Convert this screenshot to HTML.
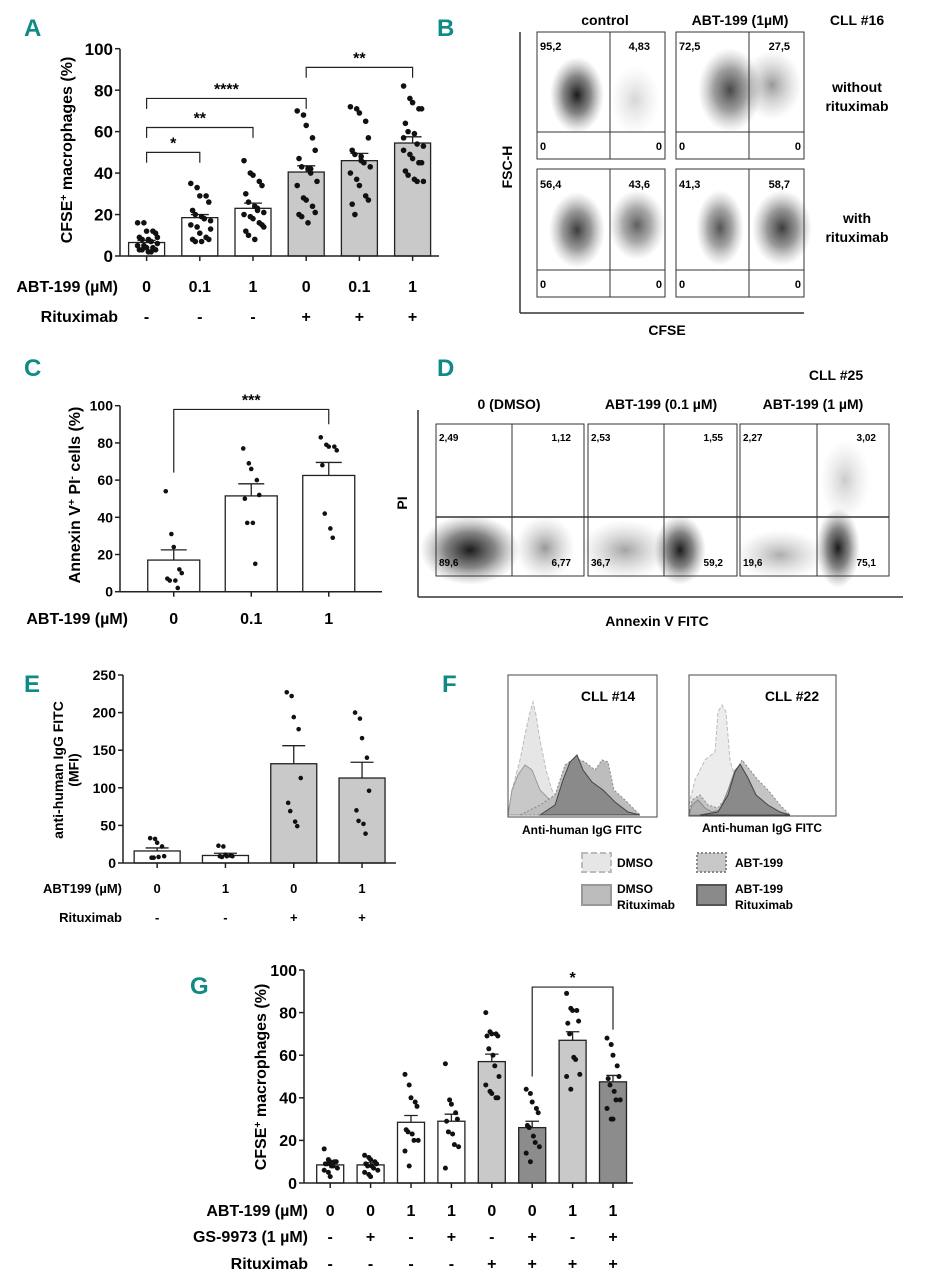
<!DOCTYPE html>
<html><head><meta charset="utf-8">
<style>
body{margin:0;background:#fff;}
svg{display:block;font-family:"Liberation Sans",sans-serif;}
.b{font-weight:bold;}
.let{font-family:"Liberation Sans",sans-serif;font-weight:bold;fill:#0f8a85;font-size:24px;}
</style></head>
<body>
<svg id="fig" width="925" height="1280" viewBox="0 0 925 1280" xmlns="http://www.w3.org/2000/svg">
<defs>
<radialGradient id="blob" cx="50%" cy="50%" r="50%">
<stop offset="0" stop-color="#000" stop-opacity="0.9"/>
<stop offset="0.5" stop-color="#222" stop-opacity="0.55"/>
<stop offset="1" stop-color="#666" stop-opacity="0"/>
</radialGradient>
<radialGradient id="blobL" cx="50%" cy="50%" r="50%">
<stop offset="0" stop-color="#333" stop-opacity="0.5"/>
<stop offset="1" stop-color="#888" stop-opacity="0"/>
</radialGradient>
</defs>
<g id="letters">
<text class="let" x="24" y="36">A</text>
<text class="let" x="437" y="36">B</text>
<text class="let" x="24" y="376">C</text>
<text class="let" x="437" y="376">D</text>
<text class="let" x="24" y="692">E</text>
<text class="let" x="442" y="692">F</text>
<text class="let" x="190" y="994">G</text>
</g>
<g id="gA"></g>
<g id="gC"></g>
<g id="gE"></g>
<g id="gG"></g>

<!-- Panel B -->
<g id="panelB">
<line x1="520" y1="32" x2="520" y2="313" stroke="#333" stroke-width="1.5"/>
<line x1="520" y1="313" x2="804" y2="313" stroke="#333" stroke-width="1.5"/>
<text class="b" x="605" y="25" font-size="14" text-anchor="middle">control</text>
<text class="b" x="740" y="25" font-size="14" text-anchor="middle">ABT-199 (1µM)</text>
<text class="b" x="857" y="25" font-size="14" text-anchor="middle">CLL #16</text>
<text class="b" x="857" y="92" font-size="14" text-anchor="middle">without</text>
<text class="b" x="857" y="111" font-size="14" text-anchor="middle">rituximab</text>
<text class="b" x="857" y="223" font-size="14" text-anchor="middle">with</text>
<text class="b" x="857" y="242" font-size="14" text-anchor="middle">rituximab</text>
<text class="b" x="512" y="167" font-size="14" text-anchor="middle" transform="rotate(-90 512 167)">FSC-H</text>
<text class="b" x="667" y="335" font-size="14" text-anchor="middle">CFSE</text>
<!-- plots -->
<ellipse cx="577" cy="95" rx="27" ry="38" fill="url(#blob)"/>
<ellipse cx="635" cy="100" rx="25" ry="35" fill="url(#blobL)" opacity="0.4"/>
<ellipse cx="730" cy="90" rx="32" ry="42" fill="url(#blob)" opacity="0.8"/>
<ellipse cx="772" cy="85" rx="30" ry="35" fill="url(#blobL)"/>
<ellipse cx="577" cy="230" rx="28" ry="38" fill="url(#blob)" opacity="0.85"/>
<ellipse cx="637" cy="225" rx="28" ry="35" fill="url(#blob)" opacity="0.7"/>
<ellipse cx="720" cy="228" rx="24" ry="38" fill="url(#blob)" opacity="0.75"/>
<ellipse cx="782" cy="228" rx="30" ry="38" fill="url(#blob)" opacity="0.85"/>
<g fill="none" stroke="#333" stroke-width="1">
<rect x="537" y="32" width="128" height="127"/><line x1="537" y1="132" x2="665" y2="132"/><line x1="610" y1="32" x2="610" y2="159"/>
<rect x="676" y="32" width="128" height="127"/><line x1="676" y1="132" x2="804" y2="132"/><line x1="749" y1="32" x2="749" y2="159"/>
<rect x="537" y="169" width="128" height="128"/><line x1="537" y1="270" x2="665" y2="270"/><line x1="610" y1="169" x2="610" y2="297"/>
<rect x="676" y="169" width="128" height="128"/><line x1="676" y1="270" x2="804" y2="270"/><line x1="749" y1="169" x2="749" y2="297"/>
</g>
<g font-size="11" class="b">
<text x="540" y="50">95,2</text><text x="650" y="50" text-anchor="end">4,83</text><text x="540" y="150">0</text><text x="662" y="150" text-anchor="end">0</text>
<text x="679" y="50">72,5</text><text x="790" y="50" text-anchor="end">27,5</text><text x="679" y="150">0</text><text x="801" y="150" text-anchor="end">0</text>
<text x="540" y="188">56,4</text><text x="650" y="188" text-anchor="end">43,6</text><text x="540" y="288">0</text><text x="662" y="288" text-anchor="end">0</text>
<text x="679" y="188">41,3</text><text x="790" y="188" text-anchor="end">58,7</text><text x="679" y="288">0</text><text x="801" y="288" text-anchor="end">0</text>
</g>
</g>

<!-- Panel D -->
<g id="panelD">
<line x1="418" y1="410" x2="418" y2="597" stroke="#333" stroke-width="1.5"/>
<line x1="418" y1="597" x2="903" y2="597" stroke="#333" stroke-width="1.5"/>
<text class="b" x="836" y="380" font-size="14" text-anchor="middle">CLL #25</text>
<text class="b" x="509" y="409" font-size="14" text-anchor="middle">0 (DMSO)</text>
<text class="b" x="661" y="409" font-size="14" text-anchor="middle">ABT-199 (0.1 µM)</text>
<text class="b" x="813" y="409" font-size="14" text-anchor="middle">ABT-199 (1 µM)</text>
<text class="b" x="407" y="503" font-size="14" text-anchor="middle" transform="rotate(-90 407 503)">PI</text>
<text class="b" x="657" y="626" font-size="14" text-anchor="middle">Annexin V FITC</text>
<ellipse cx="470" cy="550" rx="50" ry="35" fill="url(#blob)"/>
<ellipse cx="545" cy="548" rx="30" ry="32" fill="url(#blobL)"/>
<ellipse cx="625" cy="550" rx="45" ry="30" fill="url(#blobL)" opacity="0.9"/>
<ellipse cx="680" cy="550" rx="26" ry="35" fill="url(#blob)"/>
<ellipse cx="780" cy="555" rx="45" ry="25" fill="url(#blobL)" opacity="0.8"/>
<ellipse cx="838" cy="548" rx="22" ry="40" fill="url(#blob)"/>
<ellipse cx="845" cy="480" rx="25" ry="40" fill="url(#blobL)" opacity="0.5"/>
<g fill="none" stroke="#333" stroke-width="1">
<rect x="436" y="424" width="148" height="152"/><line x1="512" y1="424" x2="512" y2="576"/>
<rect x="588" y="424" width="149" height="152"/><line x1="664" y1="424" x2="664" y2="576"/>
<rect x="740" y="424" width="149" height="152"/><line x1="817" y1="424" x2="817" y2="576"/>
<line x1="436" y1="517" x2="889" y2="517" stroke-width="1.5"/>
</g>
<g font-size="10" class="b">
<text x="439" y="441">2,49</text><text x="571" y="441" text-anchor="end">1,12</text><text x="439" y="566">89,6</text><text x="571" y="566" text-anchor="end">6,77</text>
<text x="591" y="441">2,53</text><text x="723" y="441" text-anchor="end">1,55</text><text x="591" y="566">36,7</text><text x="723" y="566" text-anchor="end">59,2</text>
<text x="743" y="441">2,27</text><text x="876" y="441" text-anchor="end">3,02</text><text x="743" y="566">19,6</text><text x="876" y="566" text-anchor="end">75,1</text>
</g>
</g>

<!-- Panel F -->
<g id="panelF">
<g>
<path d="M508,815 L512,790 L520,760 L526,730 L530,712 L533,702 L536,715 L540,740 L546,770 L552,790 L560,805 L570,812 L580,815 Z" fill="#e6e6e6" stroke="#bbb" stroke-dasharray="4 2"/>
<path d="M508,815 L512,790 L518,775 L525,765 L532,770 L540,790 L550,800 L560,795 L570,790 L580,795 L600,812 L610,815 Z" fill="#c8c8c8" stroke="#999"/>
<path d="M520,815 L540,805 L555,795 L565,765 L575,758 L585,762 L595,770 L602,760 L608,762 L614,790 L625,800 L640,815 Z" fill="#bdbdbd" stroke="#888" stroke-dasharray="2 2"/>
<path d="M540,815 L555,805 L563,780 L570,762 L577,755 L583,770 L592,782 L603,790 L615,802 L628,812 L640,815 Z" fill="#8a8a8a" stroke="#444"/>
<rect x="508" y="675" width="149" height="142" fill="none" stroke="#444"/>
</g>
<g>
<path d="M689,805 L695,780 L705,760 L715,752 L718,712 L722,705 L726,712 L730,760 L740,795 L755,812 L760,815 L689,815 Z" fill="#ececec" stroke="#bbb" stroke-dasharray="4 2"/>
<path d="M689,815 L692,800 L700,795 L708,805 L718,808 L728,795 L735,775 L742,760 L750,770 L758,780 L768,790 L780,805 L790,815 Z" fill="#c4c4c4" stroke="#888" stroke-dasharray="2 2"/>
<path d="M689,815 L692,805 L698,800 L705,808 L712,812 L720,810 L728,790 L735,770 L740,765 L746,780 L756,800 L770,812 L780,815 Z" fill="#b0b0b0" stroke="#888"/>
<path d="M700,815 L718,812 L728,795 L735,772 L740,764 L748,778 L756,795 L768,805 L780,812 L790,815 Z" fill="#8a8a8a" stroke="#444"/>
<rect x="689" y="675" width="147" height="141" fill="#fff" fill-opacity="0" stroke="#444"/>
</g>
<text class="b" x="608" y="701" font-size="14" text-anchor="middle" font-family="Liberation Sans">CLL #14</text>
<text class="b" x="792" y="701" font-size="14" text-anchor="middle">CLL #22</text>
<text class="b" x="582" y="834" font-size="12" text-anchor="middle">Anti-human IgG FITC</text>
<text class="b" x="762" y="832" font-size="12" text-anchor="middle">Anti-human IgG FITC</text>
<g class="b" font-size="12">
<rect x="582" y="853" width="29" height="19" fill="#e6e6e6" stroke="#bbb" stroke-width="2" stroke-dasharray="6 3"/>
<text x="617" y="867">DMSO</text>
<rect x="697" y="853" width="29" height="19" fill="#c8c8c8" stroke="#888" stroke-width="2" stroke-dasharray="2 2"/>
<text x="735" y="867">ABT-199</text>
<rect x="582" y="885" width="29" height="20" fill="#bcbcbc" stroke="#999" stroke-width="2"/>
<text x="617" y="893"><tspan x="617">DMSO</tspan><tspan x="617" dy="16">Rituximab</tspan></text>
<rect x="697" y="885" width="29" height="20" fill="#8a8a8a" stroke="#555" stroke-width="2"/>
<text x="735" y="893"><tspan x="735">ABT-199</tspan><tspan x="735" dy="16">Rituximab</tspan></text>
</g>
</g>
</svg>
<script>
// Panel A data
const aCategories = ["0","0.1","1","0","0.1","1"];
const aRituximab = ["-","-","-","+","+","+"];
const aMeans = [6.5,18.5,23,40.5,46,54.5];
const aSem = [1,1.5,2.5,3,3.5,3];
const aTicks = [0,20,40,60,80,100];
const aPoints = [
 [16,16,12,12,11,9,8,8,7,6,5,5,4,4,3,3,3,2,2,9],
 [35,33,29,29,26,22,20,19,18,17,15,14,11,9,8,8,7,7,18,13],
 [46,40,39,36,34,30,26,24,23,21,20,19,18,16,15,12,10,8,22,14],
 [70,68,63,57,51,47,43,42,40,36,34,28,27,24,21,20,19,16,42],
 [72,71,69,65,57,51,49,48,45,43,40,37,34,29,27,25,20,46],
 [82,76,74,71,71,64,60,59,54,53,51,49,47,45,45,41,39,37,36,36,57]];
const aBrackets = [[0,1,50,"*"],[0,2,62,"**"],[0,3,76,"****"],[3,5,91,"**"]];

// Panel C data
const cCategories = ["0","0.1","1"];
const cMeans = [17,51.5,62.5];
const cSem = [5.5,6.5,7];
const cTicks = [0,20,40,60,80,100];
const cPoints = [[54,31,24,12,10,7,6,6,2],[77,69,66,60,52,50,37,37,15],[83,79,78,78,76,68,42,34,29]];
const cBrackets = [[0,2,98,"***"]];

// Panel E data
const eCategories = ["0","1","0","1"];
const eRituximab = ["-","-","+","+"];
const eMeans = [16,10,132,113];
const eSem = [4,3,24,21];
const eTicks = [0,50,100,150,200,250];
const ePoints = [[33,32,27,22,9,7,7,8],[23,22,11,10,9,9,8,9],[227,222,194,178,113,80,69,55,49],[200,192,166,140,96,70,56,52,39]];

// Panel G data
const gCategories = ["0","0","1","1","0","0","1","1"];
const gGS = ["-","+","-","+","-","+","-","+"];
const gRituximab = ["-","-","-","-","+","+","+","+"];
const gMeans = [8.5,8.5,28.5,29,57,26,67,47.5];
const gSem = [1,1,3.2,3.3,3.5,3,4,3];
const gTicks = [0,20,40,60,80,100];
const gPoints = [
 [16,11,10,10,10,9,9,8,8,7,6,5,3],
 [13,12,11,10,9,9,8,8,7,6,5,4,3],
 [51,46,40,38,36,25,24,23,20,20,15,8],
 [56,39,37,33,30,29,24,23,18,17,7],
 [80,71,70,70,69,69,63,60,55,50,46,43,42,40,40],
 [44,42,38,35,33,27,26,22,19,17,14,10],
 [89,82,81,81,76,75,70,59,58,51,50,44],
 [68,65,60,55,50,49,46,43,39,39,35,30,30]];
const gBrackets = [[5,7,92,"*",50,72]];

const NS = "http://www.w3.org/2000/svg";
function mk(parent, tag, attrs, text){
  const e = document.createElementNS(NS, tag);
  for (const k in attrs) e.setAttribute(k, attrs[k]);
  if (text !== undefined) e.textContent = text;
  parent.appendChild(e);
  return e;
}

function chart(g, o){
  const y = v => o.y0 - (v - 0) / o.vmax * (o.y0 - o.yTop);
  const x = i => o.x0 + o.step * (i + 0.5) + o.pad;
  // bars
  o.means.forEach((m, i) => {
    const r = mk(g, "rect", {x: x(i) - o.bw/2, y: y(m), width: o.bw, height: o.y0 - y(m), fill: o.fills[i], stroke: "#222", "stroke-width": 1.3});
    
    
    const top = y(m + o.sem[i]);
    const eb = mk(g, "path", {d: `M${x(i)},${y(m)}V${top}M${x(i)-o.bw*0.25},${top}H${x(i)+o.bw*0.25}`, stroke: "#222", "stroke-width": 1.3, fill: "none"});
    
    
  });
  // points
  o.points.forEach((arr, i) => {
    arr.forEach((v, j) => {
      const off = ((j % 5) - 2) * o.jit + ((j % 2) ? o.jit*0.4 : 0);
      const c = mk(g, "circle", {cx: x(i) + off, cy: y(v), r: o.pr, fill: "#111"});
      
      
    });
  });
  // axes
  const ax = mk(g, "line", {x1: o.x0, y1: o.yTop, x2: o.x0, y2: o.y0, stroke: "#222", "stroke-width": 1.5});
  
  
  const xa = mk(g, "line", {x1: o.x0, y1: o.y0, x2: o.xEnd, y2: o.y0, stroke: "#222", "stroke-width": 1.5});
  
  
  o.ticks.forEach(t => {
    mk(g, "line", {x1: o.x0 - 5, y1: y(t), x2: o.x0, y2: y(t), stroke: "#222", "stroke-width": 1.5});
    const tl = mk(g, "text", {x: o.x0 - 7, y: y(t) + o.tfs*0.36, "font-size": o.tfs, "font-weight": "bold", "text-anchor": "end"}, String(t));
    
    
  });
  o.means.forEach((m, i) => mk(g, "line", {x1: x(i), y1: o.y0, x2: x(i), y2: o.y0 + 5, stroke: "#222", "stroke-width": 1.5}));
  // y title
  const yt = mk(g, "text", {x: o.ytx, y: o.yty, "font-size": o.yfs, "font-weight": "bold", "text-anchor": "middle", transform: `rotate(-90 ${o.ytx} ${o.yty})`});
  
  
  o.ytitle.forEach((line, k) => {
    const ts = mk(yt, "tspan", {x: o.ytx, dy: k ? o.yfs*1.1 : 0});
    line.forEach(seg => {
      if (seg.sup) mk(ts, "tspan", {"baseline-shift": "super", "font-size": o.yfs*0.65}, seg.t);
      else mk(ts, "tspan", {}, seg.t);
    });
  });
  // rows
  o.rows.forEach((row, k) => {
    const rl = mk(g, "text", {x: o.rowLabelX, y: o.rowY[k], "font-size": o.rfs, "font-weight": "bold", "text-anchor": "end"}, row.label);
    
    
    row.vals.forEach((v, i) => {
      const t = mk(g, "text", {x: x(i), y: o.rowY[k], "font-size": o.rfs, "font-weight": "bold", "text-anchor": "middle"}, v);
      
      
    });
  });
  // brackets
  (o.brackets || []).forEach(b => {
    const yb = y(b[2]);
    const dl = b.length > 4 ? y(b[4]) : yb + 8;
    const dr = b.length > 5 ? y(b[5]) : yb + 8;
    const p = mk(g, "path", {d: `M${x(b[0])},${dl}V${yb}H${x(b[1])}V${dr}`, stroke: "#222", "stroke-width": 1.2, fill: "none"});
    
    
    const s = mk(g, "text", {x: (x(b[0]) + x(b[1])) / 2, y: yb - 4, "font-size": o.sfs, "font-weight": "bold", "text-anchor": "middle"}, b[3]);
    
    
  });
}

const W = "#fff", L = "#c9c9c9", D = "#8c8c8c";
chart(document.getElementById("gA"), {x0:120, xEnd:439, y0:256, yTop:48.7, vmax:100, step:53.2, pad:0, bw:36,
  means:aMeans, sem:aSem, points:aPoints, ticks:aTicks, fills:[W,W,W,L,L,L], jit:4.5, pr:2.8, tfs:17, yfs:16,
  ytx:72, yty:150, ytitle:[[{t:"CFSE"},{t:"+",sup:true},{t:" macrophages (%)"}]],
  rows:[{label:"ABT-199 (µM)", vals:aCategories},{label:"Rituximab", vals:aRituximab}], rowY:[292,322], rowLabelX:118, rfs:16,
  brackets:aBrackets.map(b=>[b[0],b[1],b[2],b[3],b[2]-5,b[2]-5]), sfs:16});
chart(document.getElementById("gC"), {x0:120, xEnd:382, y0:591.7, yTop:405.7, vmax:100, step:77.5, pad:15, bw:52,
  means:cMeans, sem:cSem, points:cPoints, ticks:cTicks, fills:[W,W,W], jit:4, pr:2.3, tfs:14, yfs:16,
  ytx:80, yty:495, ytitle:[[{t:"Annexin V"},{t:"+",sup:true},{t:" PI"},{t:"-",sup:true},{t:" cells (%)"}]],
  rows:[{label:"ABT-199 (µM)", vals:cCategories}], rowY:[624], rowLabelX:128, rfs:16,
  brackets:[[0,2,98,"***",64,90]], sfs:16});
chart(document.getElementById("gE"), {x0:123, xEnd:396, y0:863, yTop:675, vmax:250, step:68.3, pad:0, bw:46,
  means:eMeans, sem:eSem, points:ePoints, ticks:eTicks, fills:[W,W,L,L], jit:3.5, pr:2.3, tfs:14, yfs:14,
  ytx:63, yty:770, ytitle:[[{t:"anti-human IgG FITC"}],[{t:"(MFI)"}]],
  rows:[{label:"ABT199 (µM)", vals:eCategories},{label:"Rituximab", vals:eRituximab}], rowY:[893,922], rowLabelX:122, rfs:13,
  brackets:[], sfs:14});
chart(document.getElementById("gG"), {x0:304, xEnd:633, y0:1183, yTop:970, vmax:100, step:40.4, pad:6, bw:27,
  means:gMeans, sem:gSem, points:gPoints, ticks:gTicks, fills:[W,W,W,W,L,D,L,D], jit:3, pr:2.5, tfs:16, yfs:16,
  ytx:266, yty:1077, ytitle:[[{t:"CFSE"},{t:"+",sup:true},{t:" macrophages (%)"}]],
  rows:[{label:"ABT-199 (µM)", vals:gCategories},{label:"GS-9973 (1 µM)", vals:gGS},{label:"Rituximab", vals:gRituximab}],
  rowY:[1216,1242,1269], rowLabelX:308, rfs:16, brackets:gBrackets, sfs:16});
</script>
</body></html>
